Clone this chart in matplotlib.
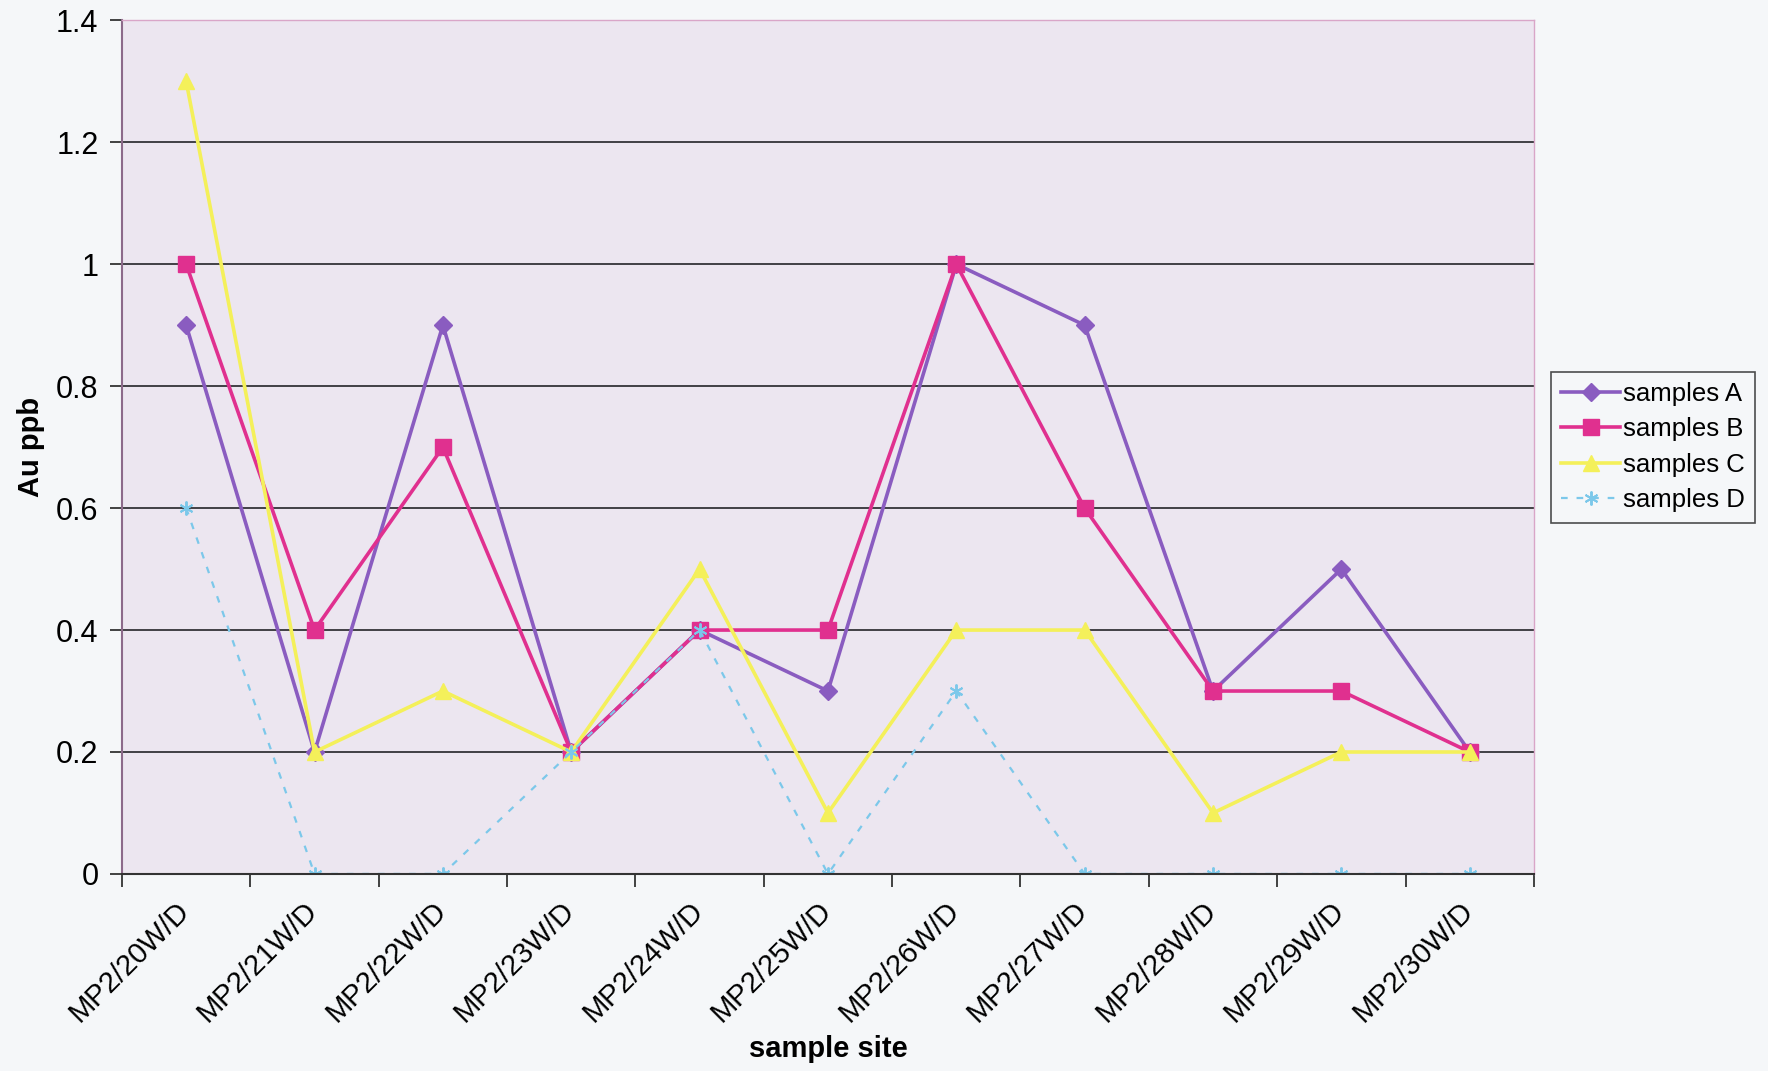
import matplotlib.pyplot as plt
from matplotlib.transforms import ScaledTranslation

plt.rcParams['font.family'] = ['Liberation Sans', 'DejaVu Sans']

sites = ["MP2/20W/D", "MP2/21W/D", "MP2/22W/D", "MP2/23W/D", "MP2/24W/D",
         "MP2/25W/D", "MP2/26W/D", "MP2/27W/D", "MP2/28W/D", "MP2/29W/D",
         "MP2/30W/D"]
samples_a = [0.9, 0.2, 0.9, 0.2, 0.4, 0.3, 1.0, 0.9, 0.3, 0.5, 0.2]
samples_b = [1.0, 0.4, 0.7, 0.2, 0.4, 0.4, 1.0, 0.6, 0.3, 0.3, 0.2]
samples_c = [1.3, 0.2, 0.3, 0.2, 0.5, 0.1, 0.4, 0.4, 0.1, 0.2, 0.2]
samples_d = [0.6, 0.0, 0.0, 0.2, 0.4, 0.0, 0.3, 0.0, 0.0, 0.0, 0.0]
y_ticks = [0, 0.2, 0.4, 0.6, 0.8, 1, 1.2, 1.4]

fig = plt.figure(figsize=(17.68, 10.71), dpi=100, facecolor='#f5f7f9')
ax = fig.add_axes([0.069, 0.184, 0.7986, 0.797])
ax.set_facecolor('#ece6f0')

x = range(len(sites))
ax.plot(x, samples_a, color='#8a5cc0', lw=2.6, marker='D', ms=9, label='samples A')
ax.plot(x, samples_b, color='#e0308f', lw=2.6, marker='s', ms=11, label='samples B')
ax.plot(x, samples_c, color='#f4f05a', lw=2.6, marker='^', ms=12, label='samples C')
ax.plot(x, samples_d, color='#7cc8ea', lw=1.6, ls=(0, (3, 4)), marker=(6, 2, 0),
        ms=10, mew=1.4, label='samples D')

ax.set_xlim(-0.5, len(sites) - 0.5)
ax.set_ylim(0, 1.4)
ax.set_yticks(y_ticks)
ax.set_yticklabels(['0', '0.2', '0.4', '0.6', '0.8', '1', '1.2', '1.4'], fontsize=22)
ax.yaxis.grid(True, color='#333338', lw=1.3)
ax.set_axisbelow(True)

# category labels centred, tick marks between categories
ax.set_xticks(list(x))
ax.set_xticklabels(sites, rotation=45, ha='right', rotation_mode='anchor', fontsize=21)
ax.tick_params(axis='x', length=0, pad=16)
shift = ScaledTranslation(-0.11, 0, fig.dpi_scale_trans)
for lbl in ax.get_xticklabels():
    lbl.set_transform(lbl.get_transform() + shift)
ax.set_xticks([i - 0.5 for i in range(len(sites) + 1)], minor=True)
ax.tick_params(axis='x', which='minor', length=9, width=1.3, color='#333333')
ax.tick_params(axis='y', length=9, width=1.3, color='#333333', pad=8)

for side in ['top', 'right']:
    ax.spines[side].set_color('#d9a6c8')
    ax.spines[side].set_linewidth(1)
ax.spines['left'].set_color('#8c6a8a')
ax.spines['left'].set_linewidth(1.5)
ax.spines['bottom'].set_color('#333333')
ax.spines['bottom'].set_linewidth(1.5)

ax.set_xlabel('sample site', fontsize=21, fontweight='bold', labelpad=6)
ax.set_ylabel('Au ppb', fontsize=21, fontweight='bold', labelpad=8)

leg = ax.legend(loc='center left', bbox_to_anchor=(1.012, 0.5), fontsize=18.5,
                frameon=True, fancybox=False, edgecolor='#222222',
                facecolor='#f5f7f9', handlelength=2.3, handletextpad=0.1,
                labelspacing=0.45, borderpad=0.4, borderaxespad=0.0)
leg.get_frame().set_linewidth(1.2)

fig.savefig('out.png', dpi=100, facecolor=fig.get_facecolor())
